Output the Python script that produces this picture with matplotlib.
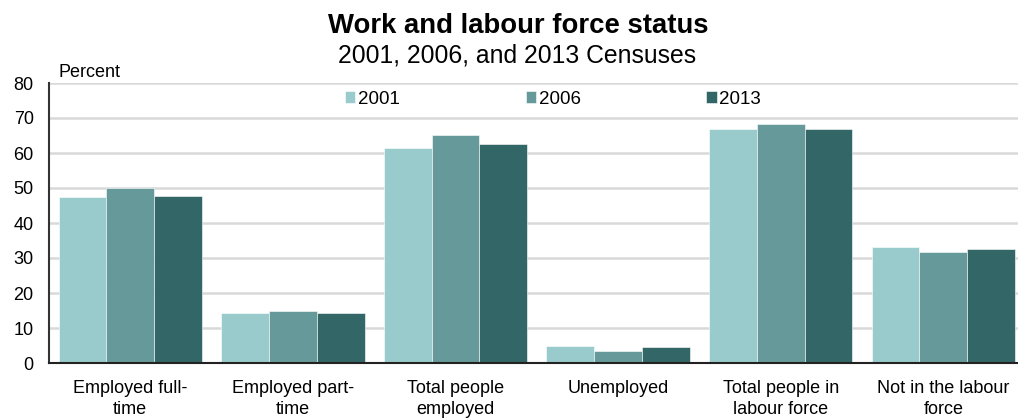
import matplotlib
matplotlib.use("Agg")
from matplotlib import pyplot as plt
import numpy as np

plt.rcParams['font.family'] = ['Liberation Sans', 'DejaVu Sans']

categorias = ["Employed full-\ntime", "Employed part-\ntime", "Total people\nemployed",
              "Unemployed", "Total people in\nlabour force", "Not in the labour\nforce"]
anios = ["2001", "2006", "2013"]
v2001 = [47.3, 14.3, 61.3, 5.0, 66.8, 33.2]
v2006 = [49.9, 14.8, 65.1, 3.5, 68.4, 31.6]
v2013 = [47.8, 14.3, 62.5, 4.5, 66.8, 32.7]
colores = ["#9acbcc", "#669999", "#336666"]

fig = plt.figure(figsize=(10.18, 4.19), dpi=100)
ax = fig.add_axes([49 / 1018, 56 / 419, 1 - 49 / 1018, 280 / 419])

x = np.arange(len(categorias))
ancho = 0.294
for i, (serie, anio) in enumerate(zip([v2001, v2006, v2013], anios)):
    ax.bar(x + (i - 1) * ancho, serie, width=ancho, color=colores[i],
           edgecolor="white", linewidth=0.4, label=anio, zorder=3)

ax.set_xlim(-0.5, -0.5 + (1018 - 49) / 162.6)
ax.set_ylim(0, 80)
ax.set_yticks(range(0, 81, 10))
ax.set_xticks(x)
ax.set_xticklabels(categorias, fontsize=13, linespacing=1.3)
ax.tick_params(axis="x", length=0, pad=12)
ax.tick_params(axis="y", length=0, pad=11, labelsize=13)
ax.grid(axis="y", color="#d9d9d9", linewidth=1.8, zorder=0)
for lado in ["top", "right"]:
    ax.spines[lado].set_visible(False)
ax.spines["left"].set_color("#333333")
ax.spines["left"].set_linewidth(1.5)
ax.spines["bottom"].set_color("#222222")
ax.spines["bottom"].set_linewidth(1.5)
ax.spines["left"].set_zorder(4)
ax.spines["bottom"].set_zorder(4)

ax.legend(loc="center", bbox_to_anchor=((553 - 49) / 969, (363 - 99) / 280),
          ncol=3, frameon=False, fontsize=13.5, handlelength=0.55, handleheight=0.6,
          handletextpad=0.15, columnspacing=6.7, borderpad=0)

fig.text(59 / 1018, 1 - 77 / 419, "Percent", fontsize=13, ha="left", va="baseline")
fig.text(518 / 1018, 1 - 33 / 419, "Work and labour force status", fontsize=19.8,
         fontweight="bold", ha="center", va="baseline")
fig.text(517 / 1018, 1 - 63 / 419, "2001, 2006, and 2013 Censuses", fontsize=17.8,
         ha="center", va="baseline")

fig.savefig("out.png", dpi=100)
